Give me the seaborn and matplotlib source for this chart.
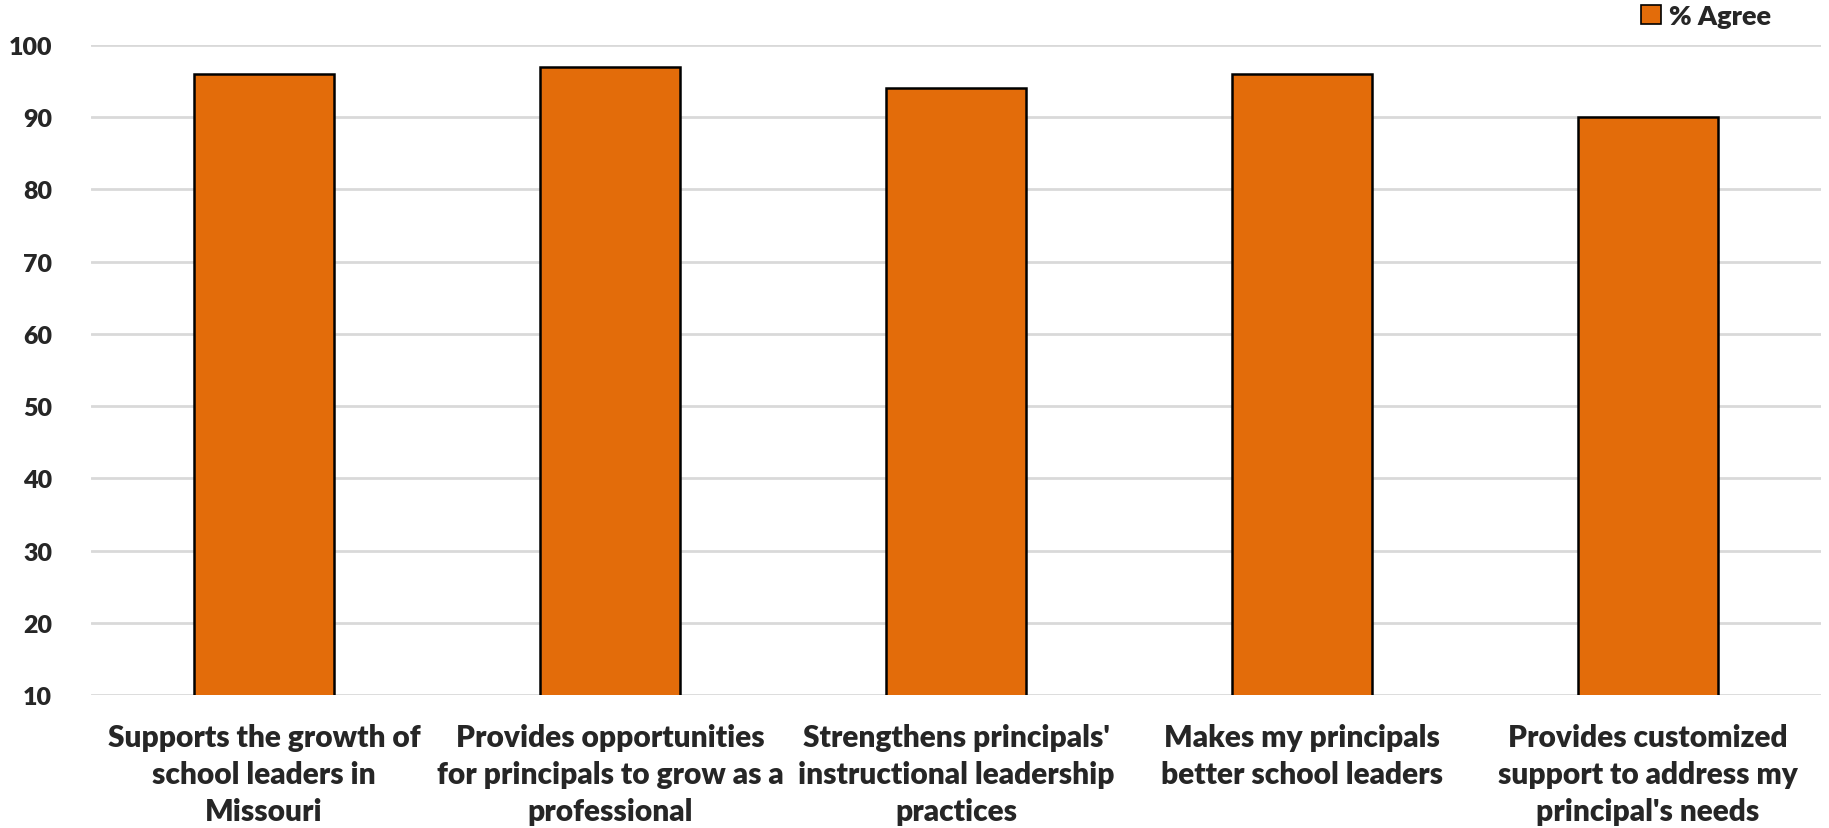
import matplotlib
matplotlib.use("Agg")
import matplotlib.pyplot as plt
import seaborn as sns
import pandas as pd
from matplotlib.patches import Patch

categories = [
    "Supports the growth of\nschool leaders in\nMissouri",
    "Provides opportunities\nfor principals to grow as a\nprofessional",
    "Strengthens principals'\ninstructional leadership\npractices",
    "Makes my principals\nbetter school leaders",
    "Provides customized\nsupport to address my\nprincipal's needs",
]
agree = [96, 97, 94, 96, 90]
yticks = [10, 20, 30, 40, 50, 60, 70, 80, 90, 100]
series_name = "% Agree"
bar_color = "#E36C0A"

df = pd.DataFrame({"item": categories, "value": agree})

sns.set_theme(style="white")
plt.rcParams["font.family"] = ["Lato", "DejaVu Sans"]
plt.rcParams["font.weight"] = "bold"

fig = plt.figure(figsize=(18.29, 8.29), dpi=100)
ax = fig.add_axes([91 / 1829, 1 - 696 / 829, (1821 - 91) / 1829, (696 - 46) / 829])

sns.barplot(data=df, x="item", y="value", color=bar_color, saturation=1,
            width=0.405, edgecolor="black", linewidth=1.8, ax=ax, zorder=3)

ax.set_ylim(10, 100)
ax.set_yticks(yticks)
ax.set_xlim(-0.5, len(categories) - 0.5)
ax.yaxis.grid(True, color="#d9d9d9", linewidth=2, zorder=0)
ax.set_axisbelow(True)
for s in ax.spines.values():
    s.set_visible(False)
ax.tick_params(axis="both", length=0)
ax.tick_params(axis="y", labelsize=18, pad=28)
ax.tick_params(axis="x", labelsize=21.5, pad=20)
for lab in ax.get_xticklabels() + ax.get_yticklabels():
    lab.set_fontweight("heavy")
for lab in ax.get_xticklabels():
    lab.set_linespacing(1.39)
ax.set_xlabel("")
ax.set_ylabel("")

handle = Patch(facecolor=bar_color, edgecolor="black", linewidth=1.2)
fig.legend([handle], [series_name], loc="center right",
           bbox_to_anchor=(1771 / 1829, 1 - 17 / 829), frameon=False,
           prop={"weight": "heavy", "size": 19.5}, handlelength=0.75,
           handleheight=0.75, handletextpad=0.3, borderaxespad=0.0,
           borderpad=0.0)

fig.savefig("out.png", dpi=100)
